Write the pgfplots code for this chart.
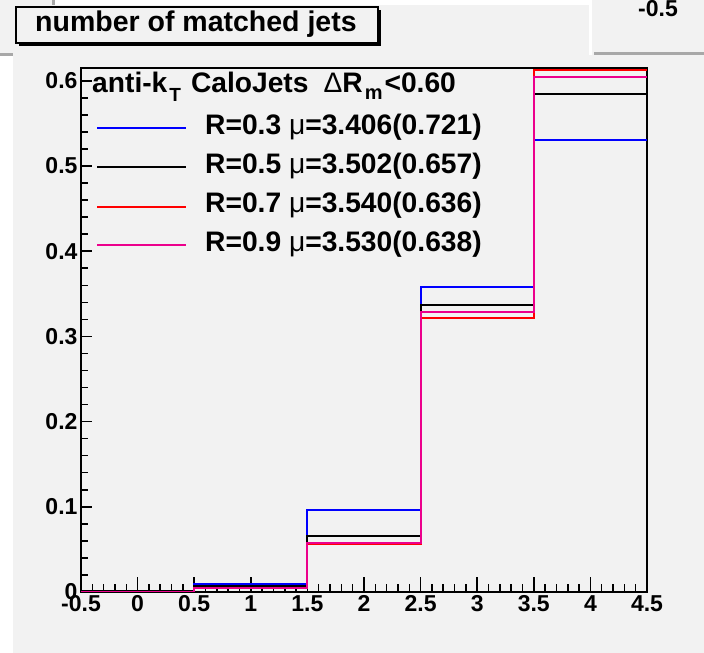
\documentclass[border=0pt]{standalone}
\usepackage{pgfplots}
\pgfplotsset{compat=1.18}
\usepackage{fontspec}
\setmainfont{Liberation Sans}
\definecolor{padgray}{HTML}{F2F2F2}
\definecolor{shadowgray}{HTML}{A8A8A8}
\newcommand{\lfont}{\fontsize{28.2}{28.2}\selectfont\bfseries}
\newcommand{\ttlfont}{\fontsize{28.5}{28.5}\selectfont\bfseries}
\newcommand{\tfont}{\fontsize{23}{23}\selectfont\bfseries}
\begin{document}
\begin{tikzpicture}[x=1pt,y=1pt]
% canvas
\fill[white] (0,0) rectangle (704,653);
% panel behind, top left
\fill[padgray] (0,653) rectangle (52,600);
\fill[shadowgray] (0,600) rectangle (55,597);
\fill[shadowgray] (52,653) rectangle (55,600);
% main pad
\fill[padgray] (13,0) rectangle (704,648);
% top-right box
\fill[white] (589,653) rectangle (592,598);
\fill[padgray] (592,653) rectangle (704,601);
\fill[shadowgray] (594,601) rectangle (704,598);
\node[anchor=base west, inner sep=0, font=\tfont] at (638,636) {-0.5};
% title box
\fill[black] (19,643) rectangle (381,607);
\filldraw[fill=padgray, draw=black, line width=1.5pt] (16,646) rectangle (378,610);
\node[anchor=base west, inner sep=0, font=\ttlfont] at (35,621) {number of matched jets};

\begin{axis}[
  at={(81pt,61pt)}, anchor=south west,
  scale only axis, width=566pt, height=524pt,
  xmin=-0.5, xmax=4.5, ymin=0, ymax=0.615,
  axis background/.style={fill=padgray},
  axis line style={line width=2pt},
  tick pos=left, tick align=inside,
  xtick={-0.5,0,0.5,1,1.5,2,2.5,3,3.5,4,4.5},
  xticklabels={-0.5,0,0.5,1,1.5,2,2.5,3,3.5,4,4.5},
  ytick={0,0.1,0.2,0.3,0.4,0.5,0.6},
  yticklabels={0,0.1,0.2,0.3,0.4,0.5,0.6},
  minor x tick num=4, minor y tick num=4,
  xtick style={/pgfplots/major tick length=15pt, /pgfplots/minor tick length=8pt, line width=1.5pt, black},
  ytick style={/pgfplots/major tick length=11pt, /pgfplots/minor tick length=7pt, line width=1.5pt, black},
  ticklabel style={font=\tfont},
  every axis plot/.append style={line width=2pt, const plot},
]
\addplot[blue] coordinates {(-0.5,0.001) (0.5,0.0094) (1.5,0.096) (2.5,0.358) (3.5,0.531) (4.5,0.531)};
\addplot[black] coordinates {(-0.5,0.0006) (0.5,0.007) (1.5,0.066) (2.5,0.337) (3.5,0.585) (4.5,0.585)};
\addplot[red] coordinates {(-0.5,0.0005) (0.5,0.005) (1.5,0.056) (2.5,0.322) (3.5,0.613) (4.5,0.613)};
\addplot[magenta] coordinates {(-0.5,0.0005) (0.5,0.005) (1.5,0.058) (2.5,0.329) (3.5,0.604) (4.5,0.604)};
\end{axis}

% legend
\node[anchor=base west, inner sep=0, font=\lfont] at (92,560) {anti-k\hspace{2pt}\raisebox{-9pt}{\fontsize{19}{19}\selectfont T}\hspace{10pt}CaloJets\hspace{15pt}{\mdseries Δ}R\hspace{2pt}\raisebox{-7pt}{\fontsize{20}{20}\selectfont m}\hspace{2pt}<0.60};
\draw[blue, line width=2pt] (97,525) -- (186,525);
\draw[black, line width=2pt] (97,486) -- (186,486);
\draw[red, line width=2pt] (97,446) -- (186,446);
\draw[magenta, line width=2pt] (97,408) -- (186,408);
\node[anchor=base west, inner sep=0, font=\lfont] at (205,518) {R=0.3 {\mdseries μ}=3.406(0.721)};
\node[anchor=base west, inner sep=0, font=\lfont] at (205,479.5) {R=0.5 {\mdseries μ}=3.502(0.657)};
\node[anchor=base west, inner sep=0, font=\lfont] at (205,440) {R=0.7 {\mdseries μ}=3.540(0.636)};
\node[anchor=base west, inner sep=0, font=\lfont] at (205,401) {R=0.9 {\mdseries μ}=3.530(0.638)};
\end{tikzpicture}
\end{document}
